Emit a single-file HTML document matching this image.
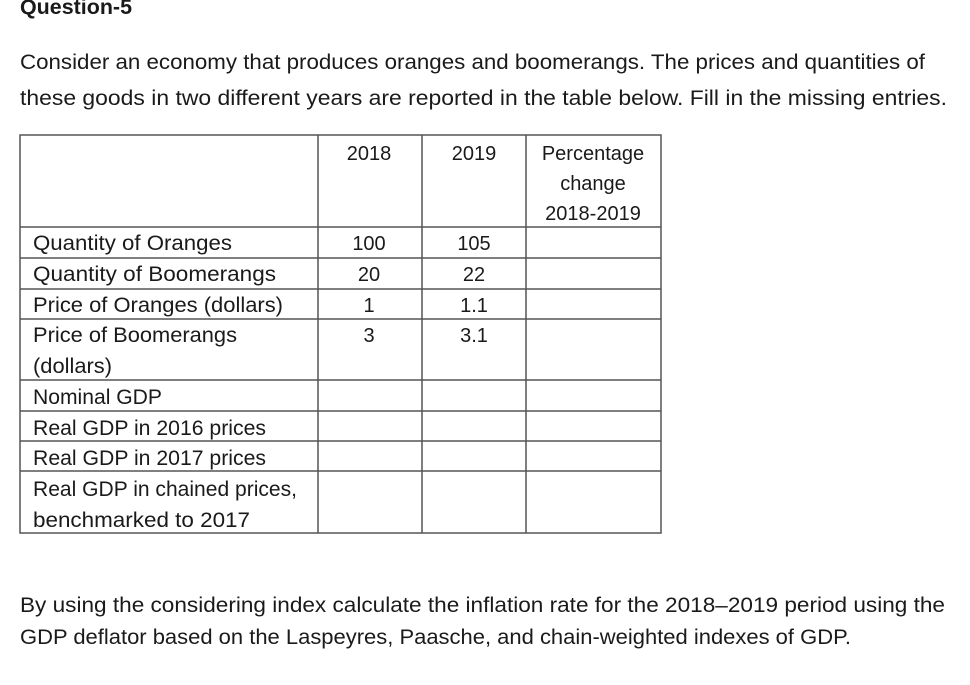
<!DOCTYPE html>
<html><head><meta charset="utf-8"><style>
html,body{margin:0;padding:0;background:#fff;}
svg{display:block;font-family:"Liberation Sans",sans-serif;}
text{fill:#1a1a1a;font-size:21px;}
.t text{font-size:20px;}
</style></head><body>
<svg width="970" height="685" viewBox="0 0 970 685">
<text x="20" y="14" font-weight="bold" textLength="112" lengthAdjust="spacingAndGlyphs">Question-5</text>
<text x="20" y="69" textLength="905" lengthAdjust="spacingAndGlyphs">Consider an economy that produces oranges and boomerangs. The prices and quantities of</text>
<text x="20" y="105" textLength="927" lengthAdjust="spacingAndGlyphs">these goods in two different years are reported in the table below. Fill in the missing entries.</text>
<g stroke="#555" stroke-width="1.5" fill="none">
<rect x="20" y="135" width="641" height="398"/>
<line x1="318" y1="135" x2="318" y2="533"/>
<line x1="422" y1="135" x2="422" y2="533"/>
<line x1="526" y1="135" x2="526" y2="533"/>
<line x1="20" y1="227" x2="661" y2="227"/>
<line x1="20" y1="258" x2="661" y2="258"/>
<line x1="20" y1="289" x2="661" y2="289"/>
<line x1="20" y1="319" x2="661" y2="319"/>
<line x1="20" y1="380" x2="661" y2="380"/>
<line x1="20" y1="411" x2="661" y2="411"/>
<line x1="20" y1="441" x2="661" y2="441"/>
<line x1="20" y1="471" x2="661" y2="471"/>
</g>
<g class="t" text-anchor="middle">
<text x="369" y="160">2018</text>
<text x="474" y="160">2019</text>
<text x="593" y="160">Percentage</text>
<text x="593" y="190">change</text>
<text x="593" y="220">2018-2019</text>
<text x="369" y="250">100</text>
<text x="474" y="250">105</text>
<text x="369" y="281">20</text>
<text x="474" y="281">22</text>
<text x="369" y="312">1</text>
<text x="474" y="312">1.1</text>
<text x="369" y="342">3</text>
<text x="474" y="342">3.1</text>
</g>
<g>
<text x="33" y="250" textLength="199" lengthAdjust="spacingAndGlyphs">Quantity of Oranges</text>
<text x="33" y="281" textLength="243" lengthAdjust="spacingAndGlyphs">Quantity of Boomerangs</text>
<text x="33" y="312" textLength="250" lengthAdjust="spacingAndGlyphs">Price of Oranges (dollars)</text>
<text x="33" y="342" textLength="204" lengthAdjust="spacingAndGlyphs">Price of Boomerangs</text>
<text x="33" y="373" textLength="79" lengthAdjust="spacingAndGlyphs">(dollars)</text>
<text x="33" y="404" textLength="129" lengthAdjust="spacingAndGlyphs">Nominal GDP</text>
<text x="33" y="435" textLength="233" lengthAdjust="spacingAndGlyphs">Real GDP in 2016 prices</text>
<text x="33" y="465" textLength="233" lengthAdjust="spacingAndGlyphs">Real GDP in 2017 prices</text>
<text x="33" y="496" textLength="264" lengthAdjust="spacingAndGlyphs">Real GDP in chained prices,</text>
<text x="33" y="527" textLength="217" lengthAdjust="spacingAndGlyphs">benchmarked to 2017</text>
</g>
<text x="20" y="612" textLength="925" lengthAdjust="spacingAndGlyphs">By using the considering index calculate the inflation rate for the 2018–2019 period using the</text>
<text x="20" y="644" textLength="831" lengthAdjust="spacingAndGlyphs">GDP deflator based on the Laspeyres, Paasche, and chain-weighted indexes of GDP.</text>
</svg>
</body></html>
